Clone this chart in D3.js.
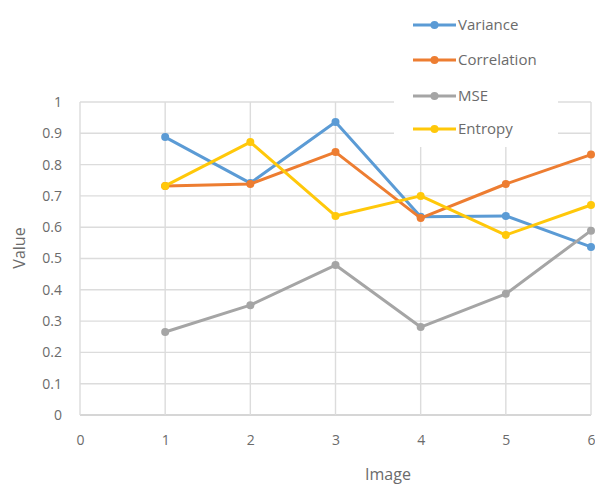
<!DOCTYPE html>
<html>
<head>
<meta charset="utf-8">
<script src="https://cdn.jsdelivr.net/npm/d3@7"></script>
<style>
  html, body { margin: 0; padding: 0; background: #fff; }
  svg { display: block; }
  text { font-family: "Open Sans", "Noto Sans", sans-serif; fill: #6b6b6b; }
</style>
</head>
<body>
<svg id="chart" width="595" height="487"></svg>
<script>
// Series measured on images 1..6
const images = [1, 2, 3, 4, 5, 6];
const variance    = [0.888, 0.741, 0.936, 0.633, 0.636, 0.537];
const correlation = [0.732, 0.738, 0.840, 0.629, 0.738, 0.832];
const mse         = [0.265, 0.351, 0.479, 0.281, 0.387, 0.589];
const entropy     = [0.732, 0.872, 0.636, 0.700, 0.575, 0.671];

const seriesNames  = ["Variance", "Correlation", "MSE", "Entropy"];
const seriesColors = ["#5B9BD5", "#ED7D31", "#A5A5A5", "#FFC80A"];
const xTicks = [0, 1, 2, 3, 4, 5, 6];
const yTicks = [0, 0.1, 0.2, 0.3, 0.4, 0.5, 0.6, 0.7, 0.8, 0.9, 1];
const xTitle = "Image";
const yTitle = "Value";

const series = [variance, correlation, mse, entropy].map((vals, i) => ({
  name: seriesNames[i],
  color: seriesColors[i],
  points: vals.map((v, j) => ({ x: images[j], y: v }))
}));

const svg = d3.select("#chart");

const x = d3.scaleLinear().domain([0, 6]).range([80, 591]);
const y = d3.scaleLinear().domain([0, 1]).range([415, 102]);

// gridlines
const grid = svg.append("g");
grid.selectAll("line.h").data(yTicks).join("line")
  .attr("x1", x(0)).attr("x2", x(6))
  .attr("y1", d => y(d)).attr("y2", d => y(d))
  .attr("stroke", d => d === 0 ? "#c8c8c8" : "#dcdcdc")
  .attr("stroke-width", d => d === 0 ? 1.6 : 1.4);
grid.selectAll("line.v").data(xTicks).join("line")
  .attr("y1", y(0)).attr("y2", y(1))
  .attr("x1", d => x(d)).attr("x2", d => x(d))
  .attr("stroke", "#dcdcdc").attr("stroke-width", 1.4);

// axes (labels only; lines drawn by the grid)
const yAxis = svg.append("g").attr("transform", `translate(${x(0)},0)`)
  .call(d3.axisLeft(y).tickValues(yTicks).tickSize(0).tickPadding(18).tickFormat(d3.format("~g")));
const xAxis = svg.append("g").attr("transform", `translate(0,${y(0)})`)
  .call(d3.axisBottom(x).tickValues(xTicks).tickSize(0).tickPadding(20).tickFormat(d3.format("d")));
[yAxis, xAxis].forEach(a => {
  a.select(".domain").remove();
  a.selectAll("text").attr("font-size", 14).attr("fill", "#6b6b6b")
    .style("font-family", '"Open Sans", sans-serif');
});

// axis titles
svg.append("text").attr("x", 388).attr("y", 480).attr("text-anchor", "middle")
  .attr("font-size", 16).text(xTitle);
svg.append("text").attr("transform", `translate(25,248) rotate(-90)`)
  .attr("text-anchor", "middle").attr("font-size", 16).text(yTitle);

// legend backing (covers grid behind it)
svg.append("rect").attr("x", 394).attr("y", 4).attr("width", 164).attr("height", 143)
  .attr("fill", "#fff");

// series lines and markers
const line = d3.line().x(d => x(d.x)).y(d => y(d.y));
const gS = svg.append("g");
series.forEach(s => {
  gS.append("path").datum(s.points)
    .attr("d", line).attr("fill", "none")
    .attr("stroke", s.color).attr("stroke-width", 3)
    .attr("stroke-linejoin", "round");
  gS.selectAll(null).data(s.points).join("circle")
    .attr("cx", d => x(d.x)).attr("cy", d => y(d.y)).attr("r", 4)
    .attr("fill", s.color);
});

// legend
const legendY = [25, 60, 96, 129];
const lg = svg.append("g");
series.forEach((s, i) => {
  const g = lg.append("g").attr("transform", `translate(413,${legendY[i]})`);
  g.append("line").attr("x1", 0).attr("x2", 43).attr("y1", 0).attr("y2", 0)
    .attr("stroke", s.color).attr("stroke-width", 3);
  g.append("circle").attr("cx", 21.5).attr("cy", 0).attr("r", 4).attr("fill", s.color);
  g.append("text").attr("x", 45).attr("y", 0).attr("dy", "0.35em")
    .attr("font-size", 15).text(s.name);
});
</script>
</body>
</html>
